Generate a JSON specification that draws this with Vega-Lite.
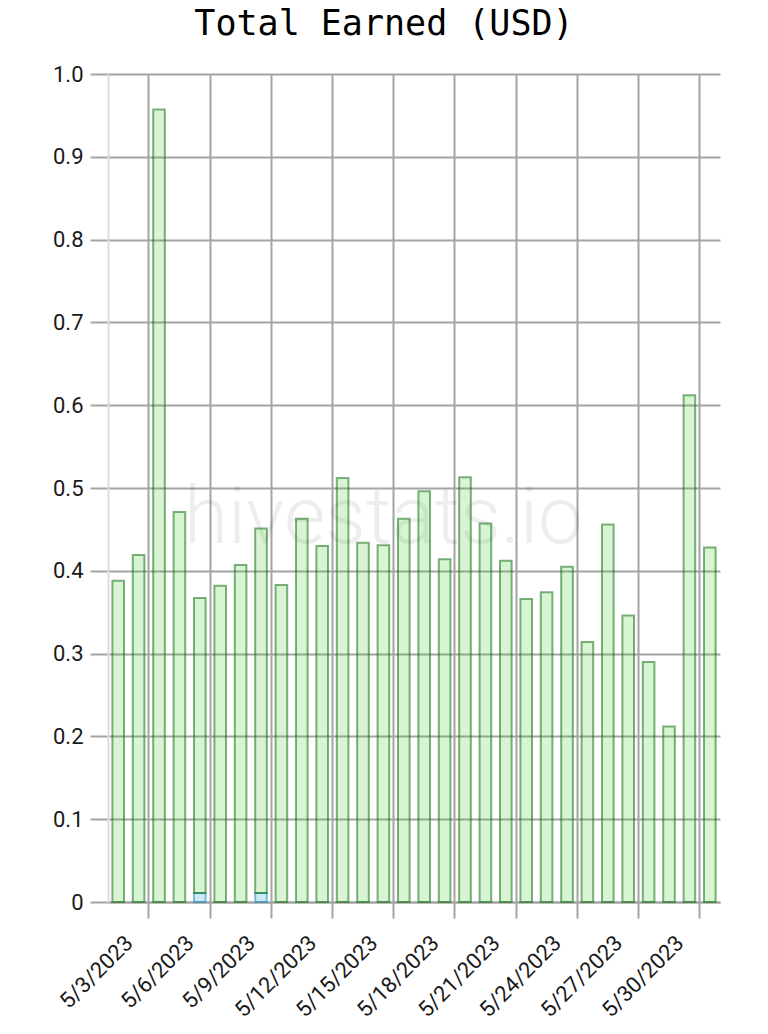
{
  "$schema": "https://vega.github.io/schema/vega-lite/v6.json",
  "width": 612,
  "height": 828,
  "autosize": "none",
  "padding": {"left": 108, "top": 74, "right": 48, "bottom": 132},
  "background": "white",
  "config": {"view": {"stroke": null}},
  "title": {
    "text": "Total Earned (USD)",
    "font": "DejaVu Sans Mono",
    "fontSize": 35,
    "fontWeight": "normal",
    "color": "#000000",
    "anchor": "middle",
    "dx": -30,
    "dy": 11,
    "baseline": "alphabetic",
    "offset": 4
  },
  "datasets": {
    "earned": [
      {"date": "5/3/2023", "series": "author", "value": 0.388},
      {"date": "5/4/2023", "series": "author", "value": 0.419},
      {"date": "5/5/2023", "series": "author", "value": 0.957},
      {"date": "5/6/2023", "series": "author", "value": 0.471},
      {"date": "5/7/2023", "series": "curation", "value": 0.011},
      {"date": "5/7/2023", "series": "author", "value": 0.356},
      {"date": "5/8/2023", "series": "author", "value": 0.382},
      {"date": "5/9/2023", "series": "author", "value": 0.407},
      {"date": "5/10/2023", "series": "curation", "value": 0.011},
      {"date": "5/10/2023", "series": "author", "value": 0.440},
      {"date": "5/11/2023", "series": "author", "value": 0.383},
      {"date": "5/12/2023", "series": "author", "value": 0.463},
      {"date": "5/13/2023", "series": "author", "value": 0.430},
      {"date": "5/14/2023", "series": "author", "value": 0.512},
      {"date": "5/15/2023", "series": "author", "value": 0.434},
      {"date": "5/16/2023", "series": "author", "value": 0.431},
      {"date": "5/17/2023", "series": "author", "value": 0.463},
      {"date": "5/18/2023", "series": "author", "value": 0.496},
      {"date": "5/19/2023", "series": "author", "value": 0.414},
      {"date": "5/20/2023", "series": "author", "value": 0.513},
      {"date": "5/21/2023", "series": "author", "value": 0.457},
      {"date": "5/22/2023", "series": "author", "value": 0.412},
      {"date": "5/23/2023", "series": "author", "value": 0.366},
      {"date": "5/24/2023", "series": "author", "value": 0.374},
      {"date": "5/25/2023", "series": "author", "value": 0.405},
      {"date": "5/26/2023", "series": "author", "value": 0.314},
      {"date": "5/27/2023", "series": "author", "value": 0.456},
      {"date": "5/28/2023", "series": "author", "value": 0.346},
      {"date": "5/29/2023", "series": "author", "value": 0.290},
      {"date": "5/30/2023", "series": "author", "value": 0.212},
      {"date": "5/31/2023", "series": "author", "value": 0.612},
      {"date": "6/1/2023", "series": "author", "value": 0.428}
    ],
    "mark": [
      {"label": "hivestats.io", "date": "5/16/2023", "value": 0.434}
    ]
  },
  "layer": [
    {
      "data": {"name": "mark"},
      "mark": {
        "type": "text",
        "font": "Roboto",
        "fontWeight": 300,
        "fontSize": 80,
        "color": "#000000",
        "opacity": 0.065,
        "align": "center",
        "baseline": "alphabetic"
      },
      "encoding": {
        "text": {"field": "label", "type": "nominal"},
        "x": {
          "field": "date",
          "type": "ordinal",
          "scale": {
            "type": "band",
            "paddingInner": 0,
            "paddingOuter": 0,
            "domain": ["5/3/2023", "5/4/2023", "5/5/2023", "5/6/2023", "5/7/2023", "5/8/2023", "5/9/2023", "5/10/2023", "5/11/2023", "5/12/2023", "5/13/2023", "5/14/2023", "5/15/2023", "5/16/2023", "5/17/2023", "5/18/2023", "5/19/2023", "5/20/2023", "5/21/2023", "5/22/2023", "5/23/2023", "5/24/2023", "5/25/2023", "5/26/2023", "5/27/2023", "5/28/2023", "5/29/2023", "5/30/2023", "5/31/2023", "6/1/2023"]
          },
          "axis": {
            "orient": "bottom",
            "title": null,
            "values": ["5/3/2023", "5/6/2023", "5/9/2023", "5/12/2023", "5/15/2023", "5/18/2023", "5/21/2023", "5/24/2023", "5/27/2023", "5/30/2023"],
            "grid": false,
            "ticks": false,
            "domain": false,
            "labelAngle": -45,
            "labelAlign": "right",
            "labelBaseline": "middle",
            "labelOffset": 11,
            "labelPadding": 37,
            "labelFont": "Roboto",
            "labelFontSize": 22,
            "labelColor": "#1a1a1a",
            "labelOverlap": false,
            "labelBound": false
          }
        },
        "y": {
          "field": "value",
          "type": "quantitative",
          "scale": {"domain": [0, 1], "nice": false},
          "axis": {
            "title": null,
            "values": [0, 0.1, 0.2, 0.3, 0.4, 0.5, 0.6, 0.7, 0.8, 0.9, 1.0],
            "labelExpr": "datum.value == 0 ? '0' : format(datum.value, '.1f')",
            "grid": true,
            "gridColor": "#a4a4a4",
            "gridWidth": 2,
            "ticks": true,
            "tickSize": 18,
            "tickColor": "#a4a4a4",
            "tickWidth": 2,
            "domain": true,
            "domainColor": "#dedede",
            "domainWidth": 2,
            "labelFont": "Roboto",
            "labelFontSize": 22,
            "labelColor": "#1a1a1a",
            "labelPadding": 7
          }
        }
      }
    },
    {
      "data": {"name": "earned"},
      "mark": {"type": "bar", "width": {"band": 0.57}, "strokeWidth": 2, "fillOpacity": 0.2, "strokeOpacity": 0.5},
      "encoding": {
        "x": {
          "field": "date",
          "type": "ordinal",
          "axis": {
            "orient": "bottom",
            "title": null,
            "values": ["5/5/2023", "5/8/2023", "5/11/2023", "5/14/2023", "5/17/2023", "5/20/2023", "5/23/2023", "5/26/2023", "5/29/2023", "6/1/2023"],
            "bandPosition": 0,
            "grid": true,
            "gridColor": "#a4a4a4",
            "gridWidth": 2,
            "ticks": true,
            "tickSize": 16,
            "tickColor": "#a4a4a4",
            "tickWidth": 2,
            "labels": false,
            "domain": true,
            "domainColor": "#a4a4a4",
            "domainWidth": 2
          }
        },
        "y": {
          "field": "value",
          "type": "quantitative",
          "stack": "zero",
          "axis": {
            "title": null,
            "values": [0, 0.1, 0.2, 0.3, 0.4, 0.5, 0.6, 0.7, 0.8, 0.9, 1.0],
            "labelExpr": "datum.value == 0 ? '0' : format(datum.value, '.1f')",
            "grid": true,
            "gridColor": "#a4a4a4",
            "gridWidth": 2,
            "ticks": true,
            "tickSize": 18,
            "tickColor": "#a4a4a4",
            "tickWidth": 2,
            "domain": true,
            "domainColor": "#dedede",
            "domainWidth": 2,
            "labelFont": "Roboto",
            "labelFontSize": 22,
            "labelColor": "#1a1a1a",
            "labelPadding": 7
          }
        },
        "fill": {
          "field": "series",
          "type": "nominal",
          "scale": {"domain": ["author", "curation"], "range": ["#3ccd23", "#0596d7"]},
          "legend": null
        },
        "stroke": {
          "field": "series",
          "type": "nominal",
          "scale": {"domain": ["author", "curation"], "range": ["#006400", "#0b84b5"]},
          "legend": null
        },
        "order": {"field": "series", "sort": "descending"}
      }
    }
  ],
  "resolve": {"axis": {"x": "independent"}}
}
